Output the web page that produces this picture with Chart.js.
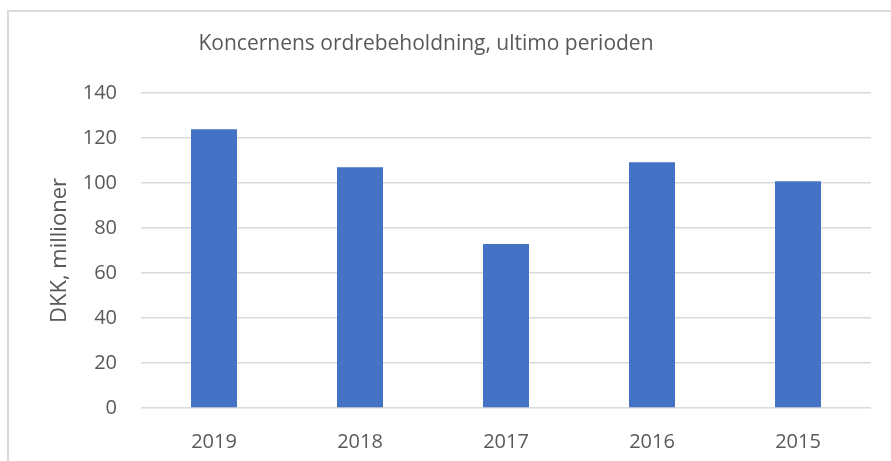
<!DOCTYPE html>
<html>
<head>
<meta charset="utf-8">
<script src="https://cdn.jsdelivr.net/npm/chart.js@4"></script>
<style>
  html, body { margin: 0; padding: 0; background: #fff; }
  #wrap { position: relative; width: 891px; height: 461px; overflow: hidden; }
  #frame { position: absolute; left: 7px; top: 10px; width: 900px; height: 470px; border: 2px solid #dadada; }
  canvas { position: absolute; left: 0; top: 0; }
</style>
</head>
<body>
<div id="wrap">
  <div id="frame"></div>
  <canvas id="chart" width="891" height="461"></canvas>
</div>
<script>
// Chart data
const chartTitle = "Koncernens ordrebeholdning, ultimo perioden";
const yAxisTitle = "DKK, millioner";
const years = ["2019", "2018", "2017", "2016", "2015"];
const orderBook = [123.9, 107, 72.9, 109.2, 100.8];
const yMin = 0;
const yMax = 140;
const yStep = 20;

const textColor = "#595959";
const fontFamily = '"Open Sans", "Liberation Sans", sans-serif';

// Title drawn at the offset position used in the original
const titlePlugin = {
  id: "offsetTitle",
  afterDraw(chart) {
    const ctx = chart.ctx;
    ctx.save();
    ctx.font = '21px ' + fontFamily;
    ctx.fillStyle = textColor;
    ctx.textAlign = "center";
    ctx.textBaseline = "middle";
    ctx.fillText(chartTitle, 426, 44);
    ctx.restore();
  }
};

const ctx = document.getElementById("chart").getContext("2d");
new Chart(ctx, {
  type: "bar",
  data: {
    labels: years,
    datasets: [{
      label: chartTitle,
      data: orderBook,
      backgroundColor: "#4472c4",
      barPercentage: 0.315,
      categoryPercentage: 1
    }]
  },
  options: {
    responsive: false,
    animation: false,
    layout: { padding: { left: 0, right: 20, top: 93, bottom: 0 } },
    plugins: {
      legend: { display: false },
      tooltip: { enabled: false },
      title: { display: false }
    },
    scales: {
      x: {
        grid: { display: false },
        border: { display: false },
        ticks: { color: textColor, font: { family: fontFamily, size: 20 }, padding: 14 },
        afterFit: s => { s.height = 53; }
      },
      y: {
        min: yMin,
        max: yMax,
        ticks: { stepSize: yStep, color: textColor, font: { family: fontFamily, size: 20 }, padding: 24 },
        grid: { color: "#d9d9d9", lineWidth: 1.5, drawTicks: false },
        border: { display: false },
        title: {
          display: true,
          text: yAxisTitle,
          color: textColor,
          font: { family: fontFamily, size: 22 },
          padding: { top: 47, bottom: 0 }
        },
        afterFit: s => { s.width = 141; }
      }
    }
  },
  plugins: [titlePlugin]
});
</script>
</body>
</html>
